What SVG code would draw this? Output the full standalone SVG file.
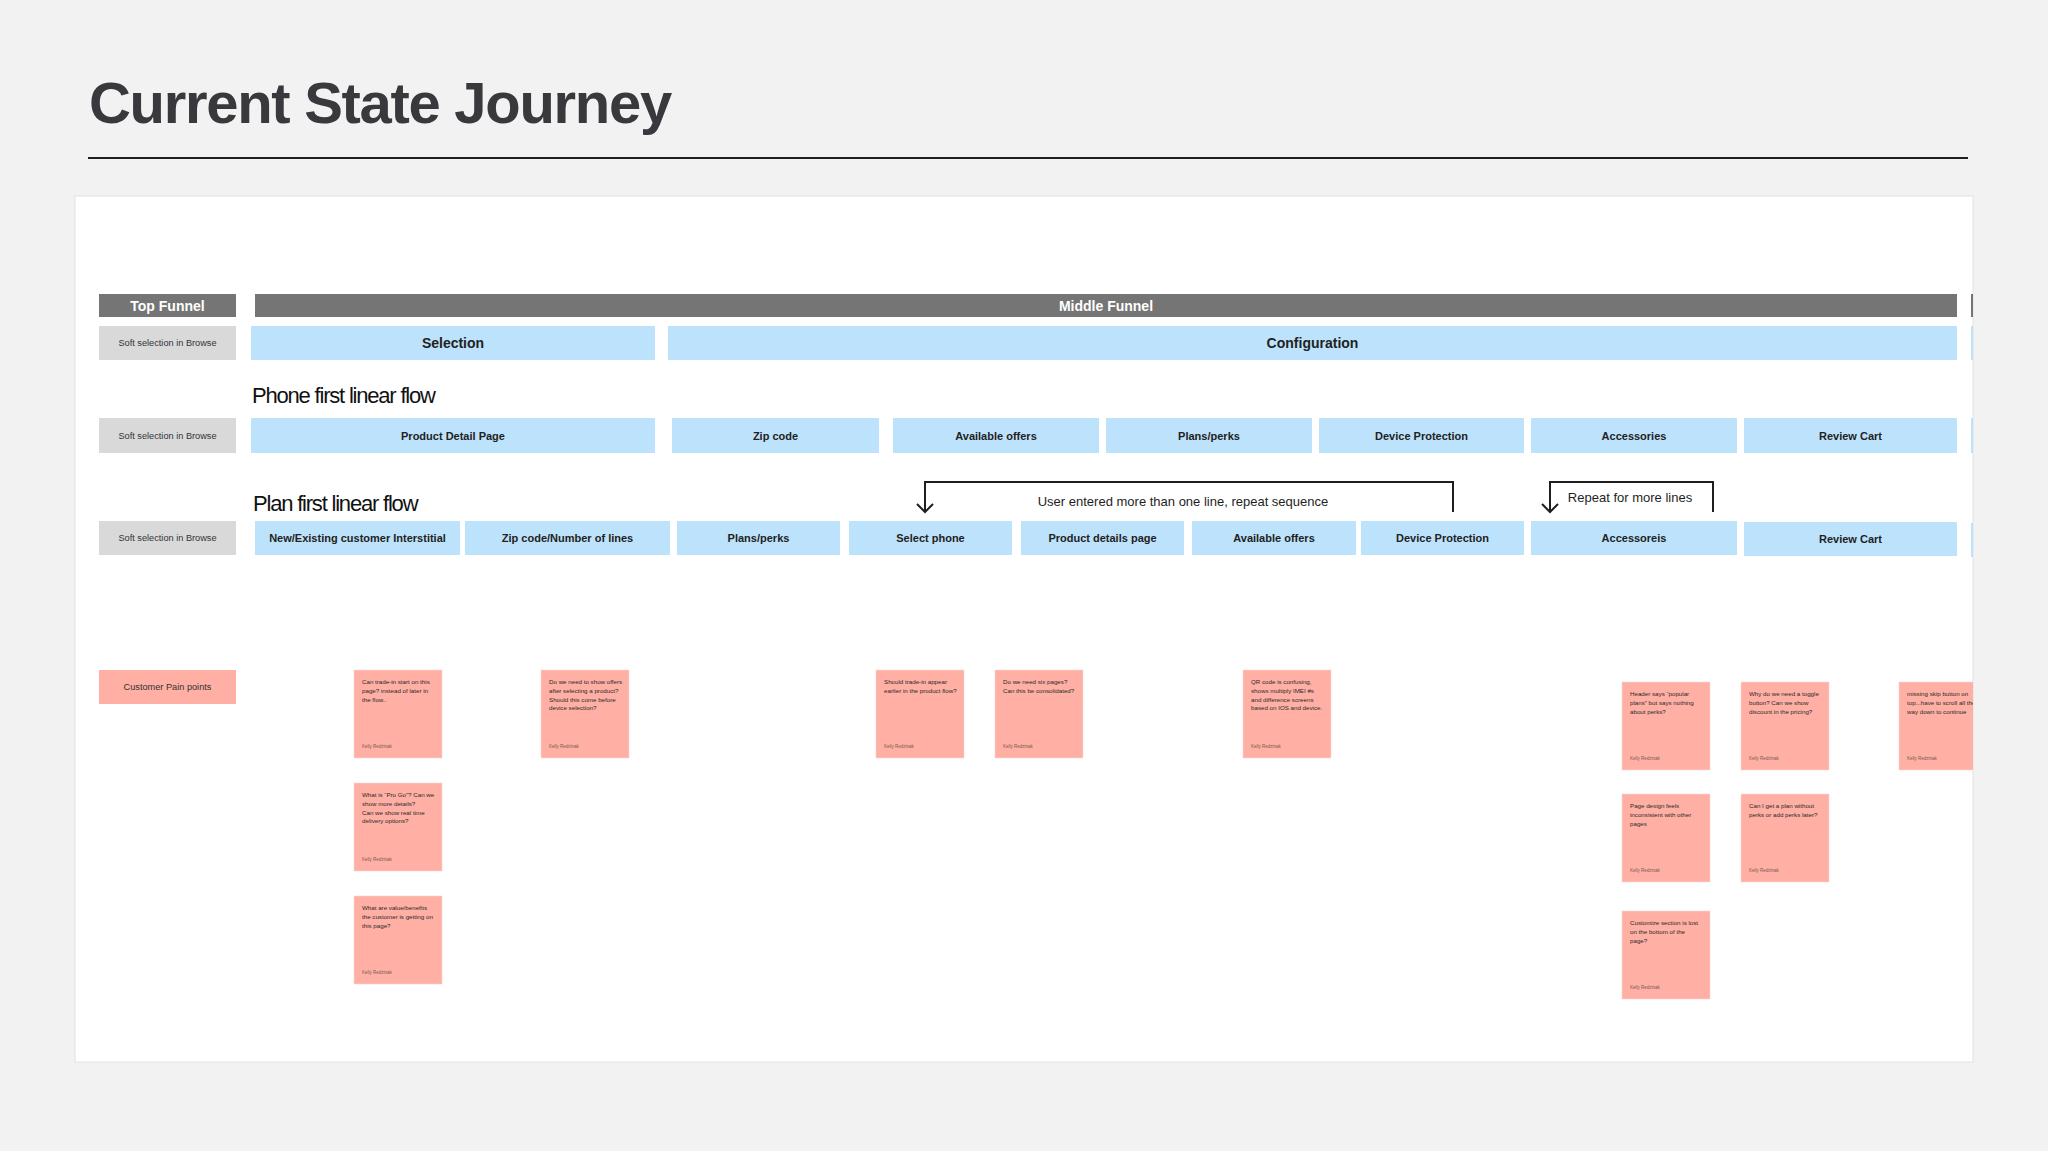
<svg xmlns="http://www.w3.org/2000/svg" width="2048" height="1151" viewBox="0 0 2048 1151">
<style>
.bg{fill:#f2f2f2}
.panel{fill:#ffffff;stroke:#e2e2e2;stroke-width:1}
.dark{fill:#757575}
.grey{fill:#d9d9d9}
.blue{fill:#bde3fc}
.salmon{fill:#ffafa3}
.sticky{fill:#ffafa3;stroke:#f3d8d4;stroke-width:0.6}
.t{font-family:"Liberation Sans",Arial,sans-serif}
.hdr{font-family:"Liberation Sans",Arial,sans-serif;font-weight:bold;font-size:14px;fill:#ffffff;text-anchor:middle}
.lbl{font-family:"Liberation Sans",Arial,sans-serif;font-weight:bold;font-size:11px;fill:#222222;text-anchor:middle}
.big{font-family:"Liberation Sans",Arial,sans-serif;font-weight:bold;font-size:14px;fill:#222222;text-anchor:middle}
.small{font-family:"Liberation Sans",Arial,sans-serif;font-size:9.2px;fill:#333333;text-anchor:middle}
.flow{font-family:"Liberation Sans",Arial,sans-serif;font-size:22px;fill:#111111;letter-spacing:-1.2px}
.note{font-family:"Liberation Sans",Arial,sans-serif;font-size:6.2px;fill:#2b2b2b}
.auth{font-family:"Liberation Sans",Arial,sans-serif;font-size:4.5px;fill:#7a5a56}
.conn{fill:none;stroke:#1e1e1e;stroke-width:2}
.clab{font-family:"Liberation Sans",Arial,sans-serif;font-size:13px;fill:#1e1e1e}
</style>
<defs>
<marker id="chev" viewBox="-10 -10 20 20" refX="0" refY="0" markerWidth="20" markerHeight="20" markerUnits="userSpaceOnUse" orient="auto" overflow="visible">
<path d="M -8 -8 L 0 0 L -8 8" fill="none" stroke="#1e1e1e" stroke-width="2"/>
</marker>
<clipPath id="panelClip"><rect x="75" y="196" width="1898" height="866"/></clipPath>
</defs>
<rect class="bg" x="0" y="0" width="2048" height="1151"/>
<g id="header">
<text class="t" x="89" y="123" font-size="58" font-weight="bold" fill="#38383d" letter-spacing="-1.3">Current State Journey</text>
<rect x="88" y="157" width="1880" height="2" fill="#1e1e1e"/>
</g>
<rect class="panel" x="75" y="196" width="1898" height="866"/>

<g id="row-funnel">
<g id="top-funnel"><rect class="dark" x="99" y="294" width="137" height="23"/><text class="hdr" x="167.5" y="310.5">Top Funnel</text></g>
<g id="middle-funnel"><rect class="dark" x="255" y="294" width="1702" height="23"/><text class="hdr" x="1106" y="310.5">Middle Funnel</text></g>
<rect class="dark" x="1971" y="294" width="2" height="23"/>
</g>

<g id="row-stage">
<g id="soft-1"><rect class="grey" x="99" y="326" width="137" height="34"/><text class="small" x="167.5" y="346">Soft selection in Browse</text></g>
<g id="selection"><rect class="blue" x="251" y="326" width="404" height="34"/><text class="big" x="453" y="348">Selection</text></g>
<g id="configuration"><rect class="blue" x="668" y="326" width="1289" height="34"/><text class="big" x="1312.5" y="348">Configuration</text></g>
<rect class="blue" x="1971" y="326" width="2" height="34"/>
</g>

<text id="phone-flow-title" class="flow" x="252" y="403">Phone first linear flow</text>

<g id="row-phone">
<g id="soft-2"><rect class="grey" x="99" y="418" width="137" height="35"/><text class="small" x="167.5" y="438.5">Soft selection in Browse</text></g>
<g id="p-pdp"><rect class="blue" x="251" y="418" width="404" height="35"/><text class="lbl" x="453" y="439.5">Product Detail Page</text></g>
<g id="p-zip"><rect class="blue" x="672" y="418" width="207" height="35"/><text class="lbl" x="775.5" y="439.5">Zip code</text></g>
<g id="p-offers"><rect class="blue" x="893" y="418" width="206" height="35"/><text class="lbl" x="996" y="439.5">Available offers</text></g>
<g id="p-plans"><rect class="blue" x="1106" y="418" width="206" height="35"/><text class="lbl" x="1209" y="439.5">Plans/perks</text></g>
<g id="p-protect"><rect class="blue" x="1319" y="418" width="205" height="35"/><text class="lbl" x="1421.5" y="439.5">Device Protection</text></g>
<g id="p-acc"><rect class="blue" x="1531" y="418" width="206" height="35"/><text class="lbl" x="1634" y="439.5">Accessories</text></g>
<g id="p-cart"><rect class="blue" x="1744" y="418" width="213" height="35"/><text class="lbl" x="1850.5" y="439.5">Review Cart</text></g>
<rect class="blue" x="1971" y="418" width="2" height="35"/>
</g>

<text id="plan-flow-title" class="flow" x="253" y="511">Plan first linear flow</text>

<g id="row-plan">
<g id="soft-3"><rect class="grey" x="99" y="521" width="137" height="34"/><text class="small" x="167.5" y="541">Soft selection in Browse</text></g>
<g id="q-interstitial"><rect class="blue" x="255" y="521" width="205" height="34"/><text class="lbl" x="357.5" y="542">New/Existing customer Interstitial</text></g>
<g id="q-zip"><rect class="blue" x="465" y="521" width="205" height="34"/><text class="lbl" x="567.5" y="542">Zip code/Number of lines</text></g>
<g id="q-plans"><rect class="blue" x="677" y="521" width="163" height="34"/><text class="lbl" x="758.5" y="542">Plans/perks</text></g>
<g id="q-phone"><rect class="blue" x="849" y="521" width="163" height="34"/><text class="lbl" x="930.5" y="542">Select phone</text></g>
<g id="q-pdp"><rect class="blue" x="1021" y="521" width="163" height="34"/><text class="lbl" x="1102.5" y="542">Product details page</text></g>
<g id="q-offers"><rect class="blue" x="1192" y="521" width="164" height="34"/><text class="lbl" x="1274" y="542">Available offers</text></g>
<g id="q-protect"><rect class="blue" x="1361" y="521" width="163" height="34"/><text class="lbl" x="1442.5" y="542">Device Protection</text></g>
<g id="q-acc"><rect class="blue" x="1531" y="521" width="206" height="34"/><text class="lbl" x="1634" y="542">Accessoreis</text></g>
<g id="q-cart"><rect class="blue" x="1744" y="522" width="213" height="34"/><text class="lbl" x="1850.5" y="543">Review Cart</text></g>
<rect class="blue" x="1971" y="523" width="2" height="34"/>
</g>

<g id="connectors">
<path class="conn" d="M 1453 512 V 482 H 925 V 512" marker-end="url(#chev)"/>
<text class="clab" x="1183" y="506" text-anchor="middle">User entered more than one line, repeat sequence</text>
<path class="conn" d="M 1713 512 V 482 H 1550 V 512" marker-end="url(#chev)"/>
<text class="clab" x="1630" y="502" text-anchor="middle">Repeat for more lines</text>
</g>

<g id="pain-label"><rect class="salmon" x="99" y="670" width="137" height="34"/><text class="small" x="167.5" y="690">Customer Pain points</text></g>

<g id="stickies" clip-path="url(#panelClip)">
<g id="s1" transform="translate(354,670)"><rect class="sticky" width="88" height="88"/><text class="note" x="8" y="14"><tspan x="8">Can trade-in start on this</tspan><tspan x="8" dy="8.8">page? instead of later in</tspan><tspan x="8" dy="8.8">the flow..</tspan></text><text class="auth" x="8" y="78">Kelly Redzinak</text></g>
<g id="s2" transform="translate(354,783)"><rect class="sticky" width="88" height="88"/><text class="note" x="8" y="14"><tspan x="8">What is “Pro Go”? Can we</tspan><tspan x="8" dy="8.8">show more details?</tspan><tspan x="8" dy="8.8">Can we show real time</tspan><tspan x="8" dy="8.8">delivery options?</tspan></text><text class="auth" x="8" y="78">Kelly Redzinak</text></g>
<g id="s3" transform="translate(354,896)"><rect class="sticky" width="88" height="88"/><text class="note" x="8" y="14"><tspan x="8">What are value/benefits</tspan><tspan x="8" dy="8.8">the customer is getting on</tspan><tspan x="8" dy="8.8">this page?</tspan></text><text class="auth" x="8" y="78">Kelly Redzinak</text></g>
<g id="s4" transform="translate(541,670)"><rect class="sticky" width="88" height="88"/><text class="note" x="8" y="14"><tspan x="8">Do we need to show offers</tspan><tspan x="8" dy="8.8">after selecting a product?</tspan><tspan x="8" dy="8.8">Should this come before</tspan><tspan x="8" dy="8.8">device selection?</tspan></text><text class="auth" x="8" y="78">Kelly Redzinak</text></g>
<g id="s5" transform="translate(876,670)"><rect class="sticky" width="88" height="88"/><text class="note" x="8" y="14"><tspan x="8">Should trade-in appear</tspan><tspan x="8" dy="8.8">earlier in the product flow?</tspan></text><text class="auth" x="8" y="78">Kelly Redzinak</text></g>
<g id="s6" transform="translate(995,670)"><rect class="sticky" width="88" height="88"/><text class="note" x="8" y="14"><tspan x="8">Do we need six pages?</tspan><tspan x="8" dy="8.8">Can this be consolidated?</tspan></text><text class="auth" x="8" y="78">Kelly Redzinak</text></g>
<g id="s7" transform="translate(1243,670)"><rect class="sticky" width="88" height="88"/><text class="note" x="8" y="14"><tspan x="8">QR code is confusing,</tspan><tspan x="8" dy="8.8">shows multiply IMEI #s</tspan><tspan x="8" dy="8.8">and difference screens</tspan><tspan x="8" dy="8.8">based on IOS and device.</tspan></text><text class="auth" x="8" y="78">Kelly Redzinak</text></g>
<g id="s8" transform="translate(1622,682)"><rect class="sticky" width="88" height="88"/><text class="note" x="8" y="14"><tspan x="8">Header says “popular</tspan><tspan x="8" dy="8.8">plans” but  says nothing</tspan><tspan x="8" dy="8.8">about perks?</tspan></text><text class="auth" x="8" y="78">Kelly Redzinak</text></g>
<g id="s9" transform="translate(1741,682)"><rect class="sticky" width="88" height="88"/><text class="note" x="8" y="14"><tspan x="8">Why do we need a toggle</tspan><tspan x="8" dy="8.8">button? Can we show</tspan><tspan x="8" dy="8.8">discount in the pricing?</tspan></text><text class="auth" x="8" y="78">Kelly Redzinak</text></g>
<g id="s10" transform="translate(1899,682)"><rect class="sticky" width="88" height="88"/><text class="note" x="8" y="14"><tspan x="8">missing skip button on</tspan><tspan x="8" dy="8.8">top...have to scroll all the</tspan><tspan x="8" dy="8.8">way down to continue</tspan></text><text class="auth" x="8" y="78">Kelly Redzinak</text></g>
<g id="s11" transform="translate(1622,794)"><rect class="sticky" width="88" height="88"/><text class="note" x="8" y="14"><tspan x="8">Page design feels</tspan><tspan x="8" dy="8.8">inconsistent with other</tspan><tspan x="8" dy="8.8">pages</tspan></text><text class="auth" x="8" y="78">Kelly Redzinak</text></g>
<g id="s12" transform="translate(1741,794)"><rect class="sticky" width="88" height="88"/><text class="note" x="8" y="14"><tspan x="8">Can I get a plan without</tspan><tspan x="8" dy="8.8">perks or add perks later?</tspan></text><text class="auth" x="8" y="78">Kelly Redzinak</text></g>
<g id="s13" transform="translate(1622,911)"><rect class="sticky" width="88" height="88"/><text class="note" x="8" y="14"><tspan x="8">Customize section is lost</tspan><tspan x="8" dy="8.8">on the bottom  of the</tspan><tspan x="8" dy="8.8">page?</tspan></text><text class="auth" x="8" y="78">Kelly Redzinak</text></g>
</g>
</svg>
